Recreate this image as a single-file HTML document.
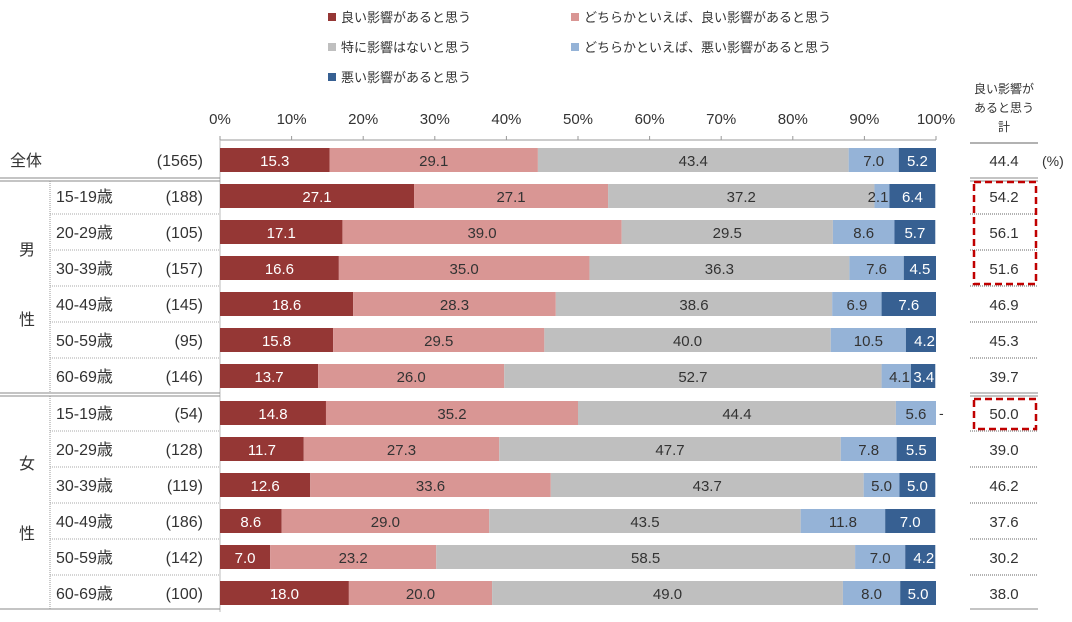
<!DOCTYPE html>
<html><head><meta charset="utf-8"><style>
body{margin:0;background:#fff;}
svg text{font-family:"Liberation Sans","Noto Sans CJK JP",sans-serif;}
</style></head><body>
<svg id="c" width="1072" height="617" xmlns="http://www.w3.org/2000/svg"></svg>
<script>
const categories=["全体","15-19歳","20-29歳","30-39歳","40-49歳","50-59歳","60-69歳","15-19歳","20-29歳","30-39歳","40-49歳","50-59歳","60-69歳"];
const sampleSizes=["(1565)","(188)","(105)","(157)","(145)","(95)","(146)","(54)","(128)","(119)","(186)","(142)","(100)"];
const seriesGood=[15.3,27.1,17.1,16.6,18.6,15.8,13.7,14.8,11.7,12.6,8.6,7.0,18.0];
const seriesSomeGood=[29.1,27.1,39.0,35.0,28.3,29.5,26.0,35.2,27.3,33.6,29.0,23.2,20.0];
const seriesNone=[43.4,37.2,29.5,36.3,38.6,40.0,52.7,44.4,47.7,43.7,43.5,58.5,49.0];
const seriesSomeBad=[7.0,2.1,8.6,7.6,6.9,10.5,4.1,5.6,7.8,5.0,11.8,7.0,8.0];
const seriesBad=[5.2,6.4,5.7,4.5,7.6,4.2,3.4,0,5.5,5.0,7.0,4.2,5.0];
const totals=[44.4,54.2,56.1,51.6,46.9,45.3,39.7,50.0,39.0,46.2,37.6,30.2,38.0];
const tickLabels=["0%","10%","20%","30%","40%","50%","60%","70%","80%","90%","100%"];
const seriesNames=["良い影響があると思う","どちらかといえば、良い影響があると思う","特に影響はないと思う","どちらかといえば、悪い影響があると思う","悪い影響があると思う"];
const colors=["#953735","#d99694","#bfbfbf","#95b3d7","#376092"];
const textColors=["#fff","#333","#333","#333","#fff"];
const svg=document.getElementById('c');const NS="http://www.w3.org/2000/svg";
function el(t,a,txt){const e=document.createElementNS(NS,t);for(const k in a)e.setAttribute(k,a[k]);if(txt!==undefined)e.textContent=txt;svg.appendChild(e);return e;}
const x=v=>220+v*7.16;
const yc=i=>i===0?160:(i<7?196+(i-1)*36:413+(i-7)*36);
// legend
const lg=[[328,18],[571,18],[328,48],[571,48],[328,78]];
seriesNames.forEach((n,i)=>{
 let r=el('rect',{x:lg[i][0],y:lg[i][1]-5,width:8,height:8,fill:colors[i]});
 
 let t=el('text',{x:lg[i][0]+13,y:lg[i][1]+4,'font-size':13,fill:'#333'},n);
 
});
// axis
tickLabels.forEach((t,i)=>{
 let tx=el('text',{x:x(i*10),y:124,'font-size':15,fill:'#333','text-anchor':'middle'},t);
 
 el('line',{x1:x(i*10),x2:x(i*10),y1:136,y2:140,stroke:'#999'});
});
let ax=el('line',{x1:220,x2:936,y1:140,y2:140,stroke:'#999'});

el('line',{x1:220,x2:220,y1:140,y2:612,stroke:'#bbb'});
// separators
[[178,181]].concat([[393,396]]).forEach(p=>p.forEach(y=>{el('line',{x1:0,x2:220,y1:y,y2:y,stroke:'#888'});el('line',{x1:970,x2:1038,y1:y,y2:y,stroke:'#888'});}));
el('line',{x1:0,x2:220,y1:609,y2:609,stroke:'#888'});el('line',{x1:970,x2:1038,y1:609,y2:609,stroke:'#888'});
el('line',{x1:970,x2:1038,y1:143,y2:143,stroke:'#666'});
el('line',{x1:50,x2:50,y1:181,y2:393,stroke:'#999','stroke-dasharray':'1,1'});
el('line',{x1:50,x2:50,y1:396,y2:609,stroke:'#999','stroke-dasharray':'1,1'});
for(let i=1;i<13;i++){if(i===6||i===12)continue;const y=yc(i)+18;
 el('line',{x1:50,x2:220,y1:y,y2:y,stroke:'#aaa','stroke-dasharray':'1,1'});
 el('line',{x1:970,x2:1038,y1:y,y2:y,stroke:'#666','stroke-dasharray':'1,1'});}
// group labels
[["男",255,'male-label'],["性",325,'male-label'],["女",469,'female-label'],["性",539,'female-label']].forEach(g=>{let t=el('text',{x:27,y:g[1],'font-size':16,fill:'#333','text-anchor':'middle'},g[0]);});
// header
["良い影響が","あると思う","計"].forEach((s,i)=>{let t=el('text',{x:1004,y:93+i*19,'font-size':12,fill:'#333','text-anchor':'middle'},s);});
let pc=el('text',{x:1042,y:166,'font-size':14,fill:'#333'},"(%)");
const series=[seriesGood,seriesSomeGood,seriesNone,seriesSomeBad,seriesBad];
categories.forEach((c,i)=>{
 const y=yc(i);
 let ct=el('text',{x:i===0?10:56,y:y+6,'font-size':16,fill:'#333'},c);
 let st=el('text',{x:203,y:y+6,'font-size':16,fill:'#333','text-anchor':'end'},sampleSizes[i]);
 let cum=0;
 series.forEach((s,k)=>{const v=s[i];
  if(v>0){let r=el('rect',{x:x(cum),y:y-12,width:x(cum+v)-x(cum),height:24,fill:colors[k]});
   
   const small=v<4.5;
   let t=el('text',{x:small?x(cum+v)-1:(x(cum)+x(cum+v))/2,y:y+6,'font-size':15,fill:textColors[k],'text-anchor':small?'end':'middle'},v.toFixed(1));
   }
  else{let t=el('text',{x:x(cum)+3,y:y+5,'font-size':14,fill:'#333'},"-");}
  cum+=v;});
 let tt=el('text',{x:1004,y:y+6,'font-size':15,fill:'#333','text-anchor':'middle'},totals[i].toFixed(1));
 
});
[[yc(1)-14,yc(3)+16],[yc(7)-14,yc(7)+16]].forEach(b=>{let r=el('rect',{x:974,y:b[0],width:62,height:b[1]-b[0],fill:'none',stroke:'#c00000','stroke-width':2.5,'stroke-dasharray':'7,4'});});
</script>
</body></html>
